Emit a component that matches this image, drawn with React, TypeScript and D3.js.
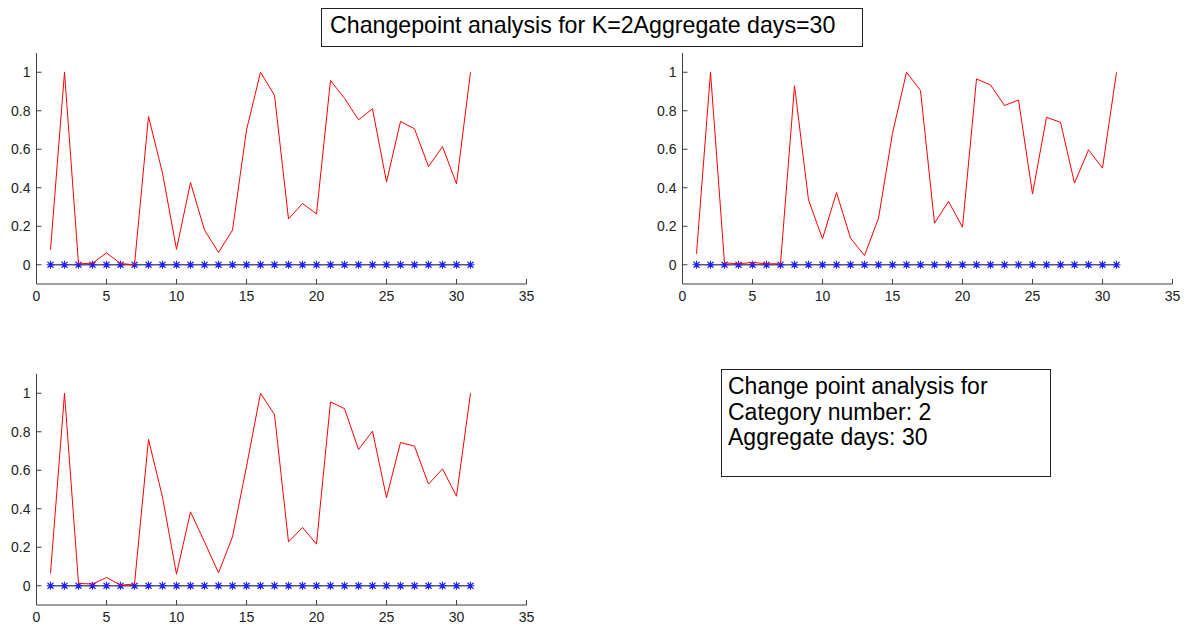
import React from "react";
import * as d3 from "d3";

// Day index of each aggregated bucket
const days = [1, 2, 3, 4, 5, 6, 7, 8, 9, 10, 11, 12, 13, 14, 15, 16, 17, 18, 19, 20, 21, 22, 23, 24, 25, 26, 27, 28, 29, 30, 31];

// Normalised series, one per subplot
const seriesTopLeft = [0.078, 1.0, 0.005, 0.008, 0.062, 0.006, 0.0, 0.77, 0.476, 0.08, 0.427, 0.18, 0.064, 0.18, 0.7, 1.0, 0.88, 0.238, 0.318, 0.264, 0.957, 0.865, 0.753, 0.81, 0.43, 0.744, 0.706, 0.51, 0.614, 0.42, 1.0];
const seriesTopRight = [0.057, 1.0, 0.01, 0.005, 0.012, 0.005, 0.005, 0.93, 0.337, 0.135, 0.375, 0.138, 0.048, 0.242, 0.683, 1.0, 0.905, 0.216, 0.329, 0.195, 0.965, 0.934, 0.827, 0.856, 0.368, 0.766, 0.74, 0.424, 0.597, 0.502, 1.0];
const seriesBottomLeft = [0.064, 1.0, 0.012, 0.009, 0.043, 0.003, 0.009, 0.76, 0.46, 0.06, 0.384, 0.228, 0.067, 0.254, 0.62, 1.0, 0.889, 0.228, 0.303, 0.216, 0.955, 0.92, 0.708, 0.803, 0.458, 0.744, 0.725, 0.528, 0.607, 0.465, 1.0];

// Detected change points (none flagged)
const changeFlags = [0, 0, 0, 0, 0, 0, 0, 0, 0, 0, 0, 0, 0, 0, 0, 0, 0, 0, 0, 0, 0, 0, 0, 0, 0, 0, 0, 0, 0, 0, 0];

const xTicks = [0, 5, 10, 15, 20, 25, 30, 35];
const yTicks = [0, 0.2, 0.4, 0.6, 0.8, 1];

const titleText = "Changepoint analysis for K=2Aggregate days=30";
const infoLines = ["Change point analysis for", "Category number: 2", "Aggregate days: 30"];

const FONT = "'Liberation Sans', Arial, Helvetica, sans-serif";
const AXIS = "#404040";

type PanelProps = {
  left: number;
  right: number;
  top: number;
  bottom: number;
  values: number[];
};

function Panel({ left, right, top, bottom, values }: PanelProps) {
  const x = d3.scaleLinear().domain([0, 35]).range([left, right]);
  const y = d3.scaleLinear().domain([-0.1, 1.1]).range([bottom, top]);
  const line = d3
    .line<number>()
    .x((_, i) => x(days[i]))
    .y((d) => y(d));
  const star = "M-4,0H4M0,-4V4M-3,-3L3,3M-3,3L3,-3";

  return (
    <g>
      {/* axis lines */}
      <line x1={left} y1={top} x2={left} y2={bottom} stroke={AXIS} strokeWidth={1} />
      <line x1={left} y1={bottom} x2={right} y2={bottom} stroke={AXIS} strokeWidth={1} />
      {xTicks.map((t) => (
        <g key={"x" + t}>
          <line x1={x(t)} x2={x(t)} y1={bottom} y2={bottom - 5} stroke={AXIS} />
          <text
            x={x(t)}
            y={bottom + 16.5}
            textAnchor="middle"
            fontFamily={FONT}
            fontSize={14}
            fill="#222"
          >
            {t}
          </text>
        </g>
      ))}
      {yTicks.map((t) => (
        <g key={"y" + t}>
          <line x1={left} x2={left + 5} y1={y(t)} y2={y(t)} stroke={AXIS} />
          <text
            x={left - 6}
            y={y(t) + 5}
            textAnchor="end"
            fontFamily={FONT}
            fontSize={14}
            fill="#222"
          >
            {t}
          </text>
        </g>
      ))}
      {/* change point indicator */}
      <path d={line(changeFlags) ?? ""} fill="none" stroke="#5a5a80" strokeWidth={1.5} />
      {changeFlags.map((v, i) => (
        <path
          key={"s" + i}
          d={star}
          transform={`translate(${x(days[i])},${y(v)})`}
          stroke="#2020ff"
          strokeWidth={1.1}
          fill="none"
        />
      ))}
      {/* normalised series */}
      <path d={line(values) ?? ""} fill="none" stroke="#ff0000" strokeWidth={1} />
    </g>
  );
}

export default function App() {
  return (
    <svg
      width={1192}
      height={626}
      style={{ position: "absolute", left: 0, top: 0, background: "#fff" }}
    >
      <rect x={0} y={0} width={1192} height={626} fill="#fff" />
      <Panel left={36.5} right={526.5} top={53} bottom={284} values={seriesTopLeft} />
      <Panel left={682.5} right={1172.5} top={53} bottom={284} values={seriesTopRight} />
      <Panel left={36.5} right={526.5} top={374} bottom={605} values={seriesBottomLeft} />

      {/* figure title */}
      <rect x={321.5} y={8.5} width={541} height={38} fill="#fff" stroke="#222" strokeWidth={1} />
      <text x={330} y={33} fontFamily={FONT} fontSize={23.2} fill="#000">
        {titleText}
      </text>

      {/* info box */}
      <rect x={721.5} y={369.5} width={329} height={107} fill="#fff" stroke="#222" strokeWidth={1} />
      {infoLines.map((s, i) => (
        <text key={s} x={728} y={394 + i * 25.5} fontFamily={FONT} fontSize={23} fill="#000">
          {s}
        </text>
      ))}
    </svg>
  );
}
